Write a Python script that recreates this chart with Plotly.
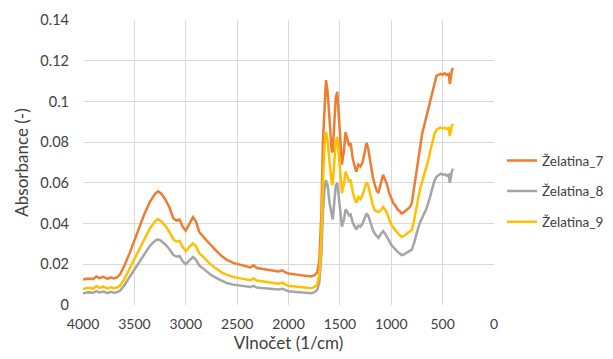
import plotly.graph_objects as go

wavenumber = [4000, 3950, 3900, 3870, 3840, 3800, 3760, 3730, 3700, 3670, 3640, 3600, 3550, 3500, 3450, 3400,
              3350, 3300, 3270, 3240, 3200, 3160, 3120, 3090, 3060, 3030, 3000, 2960, 2930, 2900, 2870, 2820,
              2760, 2700, 2650, 2600, 2540, 2480, 2420, 2370, 2340, 2310, 2260, 2200, 2150, 2100, 2060, 2030,
              2000, 1950, 1900, 1860, 1820, 1780, 1750, 1720, 1700, 1680, 1665, 1650, 1635, 1620, 1600, 1580,
              1570, 1555, 1540, 1525, 1510, 1495, 1480, 1460, 1445, 1430, 1410, 1395, 1375, 1355, 1340, 1320,
              1300, 1280, 1260, 1240, 1225, 1205, 1180, 1160, 1140, 1125, 1100, 1080, 1060, 1040, 1020, 1000,
              980, 960, 940, 920, 900, 880, 860, 840, 820, 800, 780, 760, 740, 720, 700, 680,
              660, 640, 620, 600, 580, 560, 540, 520, 500, 480, 460, 440, 430, 420, 410, 400]

zelatina_7 = [0.0125, 0.0130, 0.0128, 0.0140, 0.0132, 0.0138, 0.0128, 0.0136, 0.0130, 0.0135, 0.0150, 0.0190, 0.0250, 0.0320, 0.0390, 0.0450,
              0.0505, 0.0545, 0.0558, 0.0548, 0.0520, 0.0480, 0.0425, 0.0415, 0.0420, 0.0385, 0.0365, 0.0405, 0.0432, 0.0410, 0.0360, 0.0330,
              0.0295, 0.0265, 0.0240, 0.0222, 0.0207, 0.0198, 0.0190, 0.0185, 0.0195, 0.0182, 0.0178, 0.0172, 0.0168, 0.0165, 0.0170, 0.0160,
              0.0155, 0.0150, 0.0148, 0.0145, 0.0142, 0.0140, 0.0145, 0.0160, 0.0220, 0.0450, 0.0800, 0.1000, 0.1105, 0.1050, 0.0900, 0.0760,
              0.0750, 0.0880, 0.1020, 0.1047, 0.0920, 0.0780, 0.0690, 0.0760, 0.0850, 0.0820, 0.0780, 0.0795, 0.0720, 0.0680, 0.0655, 0.0690,
              0.0680, 0.0700, 0.0750, 0.0796, 0.0770, 0.0700, 0.0630, 0.0590, 0.0560, 0.0550, 0.0610, 0.0640, 0.0615, 0.0590, 0.0550, 0.0520,
              0.0500, 0.0490, 0.0470, 0.0462, 0.0450, 0.0455, 0.0465, 0.0470, 0.0480, 0.0500, 0.0570, 0.0650, 0.0720, 0.0790, 0.0840, 0.0880,
              0.0920, 0.0960, 0.1000, 0.1050, 0.1090, 0.1125, 0.1130, 0.1135, 0.1132, 0.1138, 0.1130, 0.1135, 0.1085, 0.1130, 0.1150, 0.1165]

zelatina_8 = [0.0058, 0.0062, 0.0060, 0.0068, 0.0062, 0.0066, 0.0058, 0.0065, 0.0060, 0.0063, 0.0070, 0.0095, 0.0135, 0.0175, 0.0215, 0.0255,
              0.0290, 0.0315, 0.0322, 0.0315, 0.0298, 0.0275, 0.0245, 0.0238, 0.0240, 0.0215, 0.0200, 0.0222, 0.0236, 0.0222, 0.0195, 0.0175,
              0.0150, 0.0132, 0.0118, 0.0108, 0.0100, 0.0095, 0.0090, 0.0088, 0.0094, 0.0086, 0.0084, 0.0080, 0.0078, 0.0076, 0.0080, 0.0072,
              0.0068, 0.0065, 0.0064, 0.0062, 0.0060, 0.0058, 0.0062, 0.0075, 0.0110, 0.0250, 0.0450, 0.0570, 0.0614, 0.0590, 0.0500, 0.0430,
              0.0420, 0.0500, 0.0585, 0.0600, 0.0530, 0.0440, 0.0385, 0.0420, 0.0470, 0.0460, 0.0440, 0.0445, 0.0405, 0.0385, 0.0372, 0.0390,
              0.0385, 0.0400, 0.0425, 0.0450, 0.0440, 0.0405, 0.0370, 0.0350, 0.0335, 0.0330, 0.0350, 0.0362, 0.0350, 0.0335, 0.0315, 0.0295,
              0.0282, 0.0270, 0.0262, 0.0255, 0.0245, 0.0248, 0.0255, 0.0258, 0.0265, 0.0272, 0.0300, 0.0340, 0.0375, 0.0405, 0.0425, 0.0445,
              0.0470, 0.0500, 0.0540, 0.0575, 0.0610, 0.0630, 0.0640, 0.0645, 0.0640, 0.0642, 0.0635, 0.0640, 0.0600, 0.0640, 0.0655, 0.0670]

zelatina_9 = [0.0078, 0.0085, 0.0080, 0.0092, 0.0084, 0.0090, 0.0080, 0.0088, 0.0082, 0.0086, 0.0095, 0.0125, 0.0175, 0.0225, 0.0280, 0.0330,
              0.0375, 0.0410, 0.0422, 0.0412, 0.0390, 0.0360, 0.0322, 0.0312, 0.0315, 0.0285, 0.0265, 0.0288, 0.0302, 0.0288, 0.0255, 0.0232,
              0.0200, 0.0178, 0.0160, 0.0148, 0.0138, 0.0132, 0.0125, 0.0122, 0.0130, 0.0120, 0.0117, 0.0112, 0.0108, 0.0105, 0.0110, 0.0100,
              0.0095, 0.0092, 0.0090, 0.0088, 0.0085, 0.0082, 0.0088, 0.0100, 0.0150, 0.0330, 0.0600, 0.0780, 0.0850, 0.0810, 0.0700, 0.0600,
              0.0590, 0.0690, 0.0800, 0.0826, 0.0730, 0.0610, 0.0550, 0.0595, 0.0655, 0.0635, 0.0605, 0.0615, 0.0555, 0.0520, 0.0502, 0.0530,
              0.0520, 0.0540, 0.0575, 0.0602, 0.0590, 0.0540, 0.0490, 0.0465, 0.0460, 0.0457, 0.0465, 0.0482, 0.0470, 0.0450, 0.0420, 0.0395,
              0.0380, 0.0365, 0.0355, 0.0345, 0.0335, 0.0338, 0.0345, 0.0350, 0.0358, 0.0368, 0.0410, 0.0465, 0.0520, 0.0570, 0.0605, 0.0640,
              0.0670, 0.0710, 0.0755, 0.0800, 0.0840, 0.0860, 0.0868, 0.0872, 0.0866, 0.0870, 0.0865, 0.0870, 0.0830, 0.0868, 0.0880, 0.0890]

series_names = ["Želatina_7", "Želatina_8", "Želatina_9"]
series_values = [zelatina_7, zelatina_8, zelatina_9]
series_colors = ["#ED7D31", "#A5A5A5", "#FFC000"]

FONT = "Lato, 'Open Sans', sans-serif"
TXT = "#404040"

fig = go.Figure()
for i, (name, vals, col) in enumerate(zip(series_names, series_values, series_colors)):
    fig.add_trace(go.Scatter(x=wavenumber, y=vals, mode="lines", name=name,
                             legendgroup=f"g{i}",
                             line=dict(color=col, width=2.5)))

fig.update_layout(
    width=613, height=359,
    margin=dict(l=75, r=127, t=12, b=62, autoexpand=False),
    paper_bgcolor="white", plot_bgcolor="white",
    font=dict(family=FONT, size=14, color=TXT),
    showlegend=True,
    legend=dict(x=1.0195, y=0.399, xanchor="left", yanchor="middle",
                tracegroupgap=10, font=dict(size=13.5, color=TXT),
                itemwidth=30, bgcolor="rgba(0,0,0,0)"),
    xaxis=dict(range=[4000, 0], dtick=500, tick0=0, showgrid=True, gridcolor="#D9D9D9",
               gridwidth=1, zeroline=False, showline=False, ticks="",
               ticklabelstandoff=9,
               tickfont=dict(size=14, color=TXT),
               title=dict(text="Vlnočet (1/cm)", font=dict(size=17, color=TXT), standoff=6)),
    yaxis=dict(range=[0, 0.14], dtick=0.02, tick0=0, showgrid=True, gridcolor="#D9D9D9",
               gridwidth=1, zeroline=False, showline=False, ticks="",
               ticklabelstandoff=13,
               tickfont=dict(size=14.5, color=TXT),
               title=dict(text="Absorbance (-)", font=dict(size=17, color=TXT), standoff=7)),
)

fig.write_html("out.html")
